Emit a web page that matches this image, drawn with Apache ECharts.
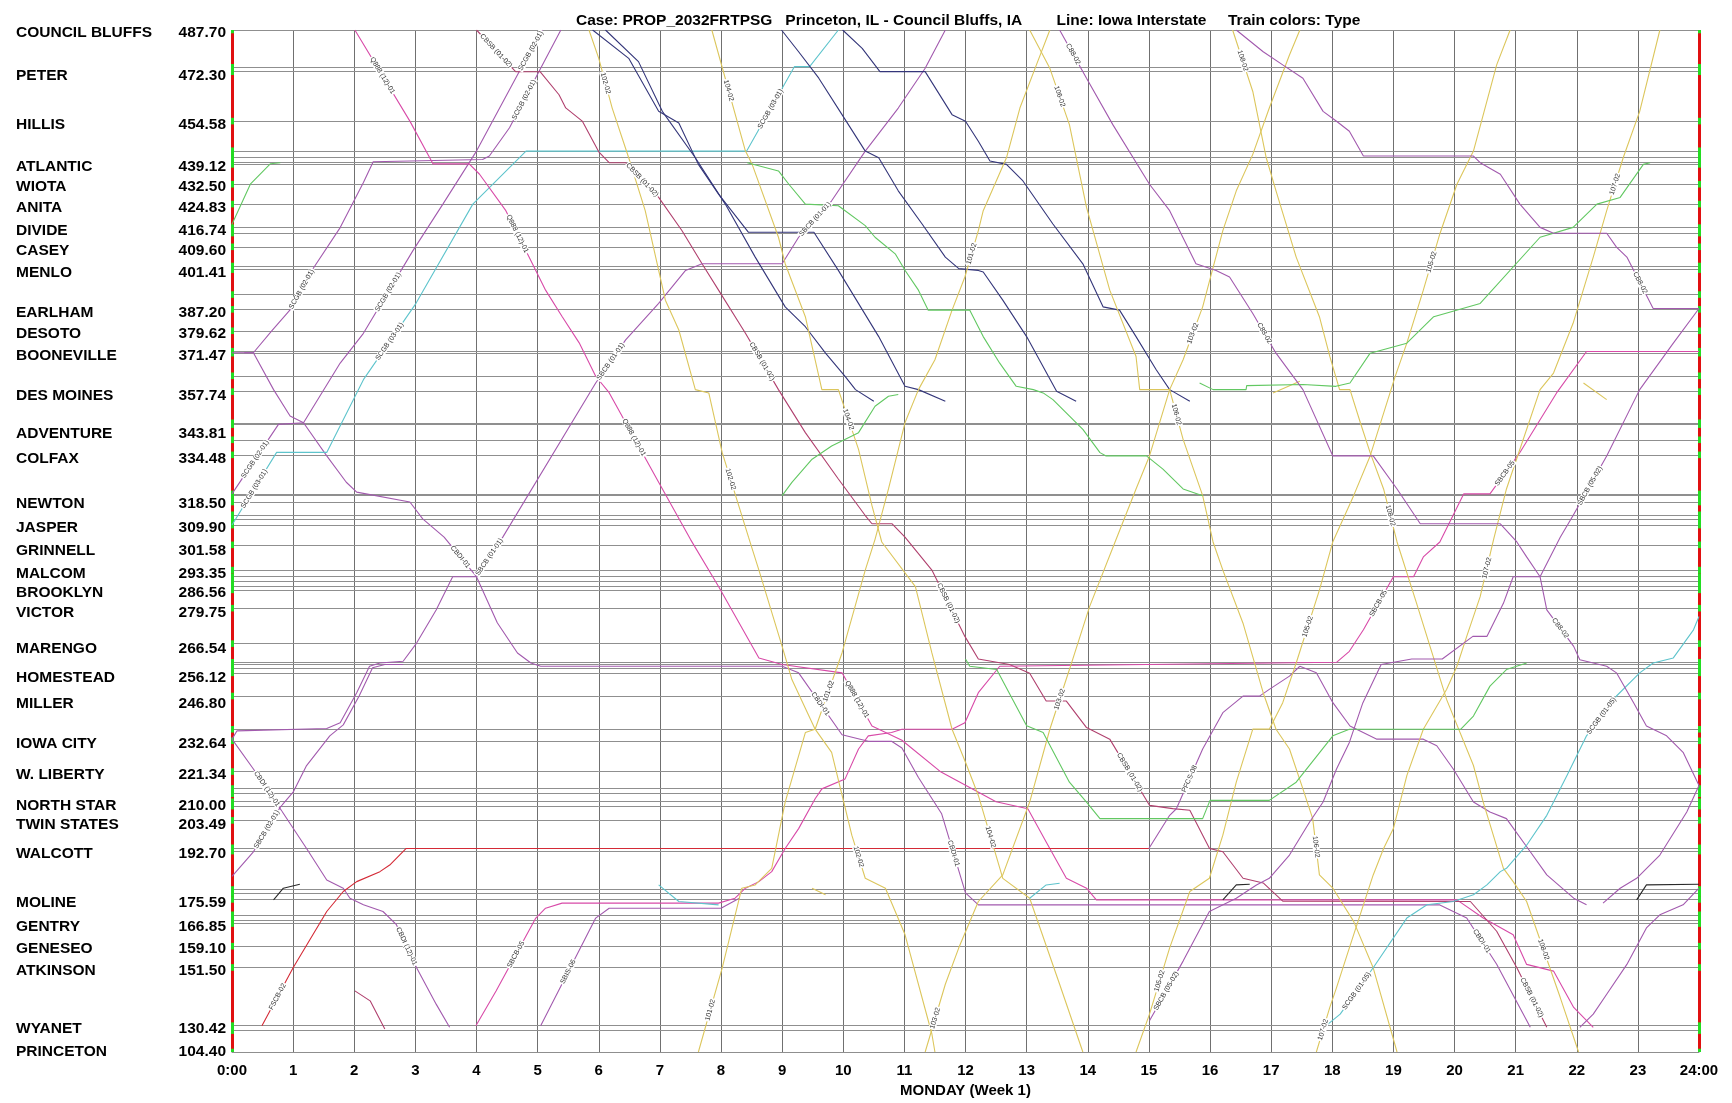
<!DOCTYPE html>
<html><head><meta charset="utf-8">
<script src="https://cdn.jsdelivr.net/npm/echarts@6/dist/echarts.min.js"></script>
<style>html,body{margin:0;padding:0;background:#fff}#c{width:1732px;height:1103px}</style>
</head><body><div id="c"></div>
<script>
// ---------------- DATA ----------------
const stationNames = ['COUNCIL BLUFFS','PETER','HILLIS','ATLANTIC','WIOTA','ANITA','DIVIDE','CASEY','MENLO','EARLHAM','DESOTO','BOONEVILLE','DES MOINES','ADVENTURE','COLFAX','NEWTON','JASPER','GRINNELL','MALCOM','BROOKLYN','VICTOR','MARENGO','HOMESTEAD','MILLER','IOWA CITY','W. LIBERTY','NORTH STAR','TWIN STATES','WALCOTT','MOLINE','GENTRY','GENESEO','ATKINSON','WYANET','PRINCETON'];
const stationMileposts = ['487.70','472.30','454.58','439.12','432.50','424.83','416.74','409.60','401.41','387.20','379.62','371.47','357.74','343.81','334.48','318.50','309.90','301.58','293.35','286.56','279.75','266.54','256.12','246.80','232.64','221.34','210.00','203.49','192.70','175.59','166.85','159.10','151.50','130.42','104.40'];
// graph distance of each station on the vertical (distance) scale of the string-line chart
const stationDist = [27,66,111,149,167,186,207,225,245,282,301,321,357,392,415,456,478,499,520,537,555,588,614,638,674,703,731,748,775,819,841,861,881,934,955];
// track / siding lines drawn across the chart (graph distance)
const trackLines = [27,61,65,110,137,143,147.6,149.4,167.5,185.6,207,212,224.5,242,245.3,268,281.5,301,319.6,321.4,342,356.4,384.8,386.5,400.3,414,449.6,451.2,457,468.6,473,478,496,519,525,529.6,533.5,537,553.7,586,603,605,608,612.6,633.7,664,674.5,702.5,718,722.7,730,734,747,772,775,810,813,819,833,838,841,861.6,881,934,938.5,958];
const hourTicks = [0,1,2,3,4,5,6,7,8,9,10,11,12,13,14,15,16,17,18,19,20,21,22,23,24];

// trains: [hour, graph distance]
const trainA768 = [[0,204],[0.3,167.5],[0.63,148.8],[0.79,148]];
const trainSCGB0201a = [[0.2,321],[0.35,321],[0.65,301],[0.95,282],[1.33,244],[1.77,207],[2.15,166],[2.31,147],[4.1,145],[4.21,141.8],[4.54,116],[5.02,65],[5.38,27]];
const trainCBDI01 = [[0,321],[0.35,321],[0.68,354.6],[0.95,378.7],[1.17,384.8],[1.55,415],[1.87,439],[2.04,448],[2.91,457],[3.12,472.3],[3.47,489],[4.0,525],[4.34,567],[4.67,594.5],[4.89,603.6],[5.05,606.6],[9.0,606.6],[9.27,612.6],[9.98,669],[10.41,675],[10.79,675],[10.96,681],[11.23,708],[11.61,741],[12.0,813],[12.21,824],[19.76,824],[20.2,836],[20.69,878],[21.24,935.5]];
const trainSCGB0201b = [[0,449.6],[0.76,386.3],[1.17,384.8],[1.77,330.4],[2.15,303.3],[2.96,228],[3.45,185.6],[4.0,137.3],[4.7,64.9],[5.08,27]];
const trainSCGB0301 = [[0,478],[0.73,411.8],[1.55,411.8],[2.15,345.5],[3.01,276],[3.94,185.6],[4.81,137.3],[8.42,137.3],[9.2,60.4],[9.45,60.4],[9.92,27]];
const trainQ88812 = [[2.01,27],[2.91,110],[3.29,149],[3.88,149],[4.05,158.4],[4.48,191.6],[4.86,233.8],[5.13,264],[5.4,288],[5.68,312],[5.95,342.4],[6.17,357.4],[6.98,439],[7.5,491],[7.96,534],[8.62,599],[9.0,605],[9.98,612.6],[10.47,661],[10.96,674],[11.6,703],[12.5,730],[13.02,736.4],[13.32,766.6],[13.65,799.8],[13.98,808.8],[14.14,819.4],[20.04,819.4],[20.47,836],[20.96,851.1],[21.18,878.2],[21.62,884.3],[21.95,917.4],[22.27,935.5]];
const trainCBSB0102 = [[4.0,27],[4.64,65],[5.04,65],[5.35,86],[5.46,98],[5.73,110],[6.0,138],[6.17,147.9],[6.44,147.9],[6.98,179.5],[7.36,209.7],[7.69,239.9],[7.96,264],[8.4,303.3],[8.94,354.6],[9.38,393.8],[9.92,436],[10.36,469.3],[10.47,476.8],[10.8,476.8],[11.01,489],[11.45,519],[11.99,579.4],[12.21,600],[12.72,605],[13.05,613],[13.32,638.3],[13.65,638.3],[13.98,662.5],[14.36,673],[15.01,733.3],[15.39,736.3],[15.67,737.8],[15.99,772.5],[16.21,775.6],[16.54,799.7],[16.87,804],[17.19,820.6],[20.26,820.9],[20.69,848],[21.02,881.3],[21.51,935.5]];
const trainSBCB0101 = [[0,673],[0.08,665.5],[1.55,663.3],[1.77,658],[2.04,630.7],[2.25,606.6],[2.42,603.6],[2.8,602],[3.02,585.5],[3.34,555.3],[3.61,525.1],[3.99,525.1],[4.43,489],[5.95,348.6],[6.44,309.3],[6.98,276.1],[7.42,246],[7.69,239.9],[9.0,239.9],[9.27,215.8],[9.81,182.6],[10.36,137.3],[10.9,98.1],[11.34,61.9],[11.67,27]];
const trainSBCB0201 = [[0,798],[0.35,775.6],[0.79,734.9],[1.0,721.3],[1.22,697.1],[1.6,670],[1.82,660],[2.08,633.7],[2.3,608],[2.5,605],[2.8,605]];
const trainCBDI1201 = [[0,673],[0.35,700.2],[0.79,736.4],[1.22,772.6],[1.55,801.3],[1.82,808.8],[1.93,817.9],[2.15,823.9],[2.47,830],[2.69,842],[3.02,881.3],[3.34,914.4],[3.56,935.5]];
const trainFSCB02 = [[0.49,934],[1.0,881.2],[1.55,830],[1.82,811.8],[2.04,802.8],[2.42,793.7],[2.58,787.7],[2.85,772.6],[15.0,772.6]];
const trainPFCS08 = [[15.0,772.6],[15.34,742.4],[15.45,736.4],[15.88,682],[16.21,648.9],[16.54,633.8],[16.81,633.8],[16.97,627.7],[17.3,615.6],[17.47,606.6]];
const trainCB80102 = [[17.47,606.6],[17.74,612.6],[18.01,639.8],[18.29,661],[18.73,673],[19.49,673],[19.71,679],[19.98,700.2],[20.31,730.3],[20.58,739.4],[20.85,745.4],[21.24,775.6],[21.51,796.7],[21.95,817.9],[22.16,823.9]];
const trainSBCB05 = [[3.99,934],[4.32,902.4],[4.97,836],[5.13,827],[5.4,822.4],[7.96,822.4],[8.23,817.9],[8.4,808.8],[8.62,802.8],[8.83,793.7],[9.05,772.6],[9.27,754.5],[9.54,727.3],[9.65,718.3],[10.03,709.2],[10.25,682],[10.41,670],[10.79,667],[10.96,664],[11.78,664],[11.99,658],[12.21,630.7],[12.56,606.6],[18.07,603],[18.28,593],[18.51,573.4],[19.0,525.1],[19.33,525.1],[19.49,507],[19.76,493.4],[20.15,449.6],[20.58,449.6],[21.07,411.9],[21.67,357.6],[22.16,319.9],[24,319.9]];
const trainSBIS06 = [[5.05,934],[5.95,836],[6.17,827],[8.0,827],[8.3,818]];
const trainNavy1 = [[6.11,27],[6.65,55.8],[7.04,101.1],[7.58,143.4],[8.07,185.6],[8.56,233.9],[9.05,279.2],[9.38,297.3],[9.71,321.4],[10.03,342.5],[10.2,354.6],[10.5,365.2]];
const trainNavy2 = [[5.9,27],[6.49,52.8],[6.98,101.1],[7.31,111.7],[7.63,149.4],[7.96,176.5],[8.45,211.3],[9.52,211.3],[9.92,246],[10.58,306.3],[11.01,351.6],[11.23,354.6],[11.67,365.2]];
const trainNavy3 = [[8.99,27],[9.27,46.8],[9.6,70.9],[9.98,104.1],[10.36,137.3],[10.58,143.4],[10.9,173.5],[11.29,203.7],[11.67,233.9],[11.89,244.4],[12.21,246],[12.29,247.5],[12.61,273.1],[13.0,306.3],[13.49,356.1],[13.81,365.2]];
const trainNavy4 = [[9.99,27],[10.31,43.8],[10.6,64.9],[11.34,64.9],[11.78,104.1],[12.0,110.1],[12.21,128.3],[12.4,146.4],[12.67,149.4],[12.94,164.5],[13.43,203.7],[13.92,240],[14.25,279.2],[14.52,282.2],[14.79,306.3],[15.12,336.5],[15.34,354.6],[15.67,365.2]];
const train102 = [[5.84,27],[6.0,52.8],[6.22,98.1],[6.49,143.4],[6.76,191.6],[7.09,273.1],[7.31,300.3],[7.58,354.6],[7.8,357.6],[8.02,412],[8.29,460.3],[8.45,489],[8.62,519.1],[9.0,588.5],[9.16,618.7],[9.54,663.9],[9.81,685],[10.14,760.5],[10.36,799.7],[10.69,808.8],[11.01,851],[11.45,941.6],[11.5,958]];
const train104 = [[7.85,27],[8.4,137.3],[8.51,149.4],[8.94,215.8],[9.05,239.9],[9.38,288.2],[9.65,354.6],[9.92,354.6],[10.25,409],[10.47,460.3],[10.63,493.4],[11.18,534],[11.45,594.5],[11.78,664],[12.0,694],[12.21,724.3],[12.61,799.8],[13.05,817.9],[13.54,896.3],[13.92,958]];
const train106 = [[13.05,27],[13.38,61.9],[13.7,113.2],[13.98,188.6],[14.36,264],[14.79,324.4],[14.85,354.6],[15.34,354.6],[15.56,399.9],[15.88,451.2],[16.05,493.4],[16.21,519],[16.54,567.4],[16.87,630.7],[17.08,664],[17.3,682],[17.52,718.3],[17.68,745.4],[17.79,796.7],[18.01,808.8],[18.35,839],[18.67,881.3],[19.06,958]];
const train108 = [[16.37,27],[16.7,83],[16.92,143.4],[17.08,173.5],[17.41,233.9],[17.79,288.2],[17.96,324.4],[18.12,354.6],[18.29,354.6],[18.46,384.8],[18.62,412],[18.84,445.1],[19.06,493.4],[19.38,549.3],[19.87,636.8],[20.31,697],[20.47,730.3],[20.8,790.7],[20.96,802.8],[21.18,820.9],[21.73,908.4],[22.03,958]];
const train101 = [[7.63,958],[8.02,881.3],[8.34,808.8],[8.56,805.8],[8.83,790.7],[9.05,730.3],[9.38,667],[9.54,664],[9.98,594.5],[10.36,519],[10.52,491],[10.74,445.1],[11.01,384.8],[11.23,354.6],[11.5,327.4],[11.78,282.2],[11.99,252],[12.21,209.7],[12.29,191.6],[12.67,143.4],[12.89,98.1],[13.16,58.8],[13.38,27]];
const train103 = [[11.34,958],[11.67,896.3],[11.89,863.1],[12.21,820.9],[12.61,796.7],[13.05,730.3],[13.38,664],[13.7,609.6],[14.03,552.3],[14.45,493],[14.79,445.1],[15.01,415],[15.34,354.6],[15.56,327.4],[15.88,279.2],[16.21,209.7],[16.43,173.5],[16.7,140.3],[16.97,98.1],[17.3,49.8],[17.47,27]];
const train105 = [[14.79,958],[15.01,923.5],[15.34,863.1],[15.67,811.8],[15.99,799.7],[16.21,760.5],[16.43,712.2],[16.7,663.9],[16.97,663.9],[17.19,639.8],[17.41,603.6],[17.79,537.2],[18.01,493.1],[18.35,451.2],[18.62,415],[19.03,342.5],[19.22,312.3],[19.49,264],[19.76,212.8],[20.04,167.5],[20.31,137.3],[20.69,58.8],[20.91,27]];
const train107 = [[17.74,958],[17.96,917.4],[18.07,899.3],[18.28,863.1],[18.67,796.7],[18.84,772.6],[19.0,754.5],[19.22,706.2],[19.49,664],[19.87,627.7],[20.04,606.6],[20.2,579.4],[20.42,543.2],[20.64,491],[20.85,445.1],[21.07,408.9],[21.4,354.6],[21.62,339.5],[21.94,294.2],[22.27,233.9],[22.49,191.6],[22.76,143.4],[23.03,101.1],[23.36,27]];
const trainPassShortA = [[9.49,808.8],[9.71,814.8]];
const trainPassShortB = [[17.03,357.6],[17.47,347]];
const trainPassShortC = [[22.11,348.6],[22.49,363.7]];
const trainFCS402 = [[8.43,147.9],[8.94,155.4],[9.11,167.5],[9.38,185.6],[9.92,187.1],[10.36,205.2],[10.52,215.8],[10.85,230.9],[11.01,245.9],[11.23,264],[11.39,282.2],[12.07,282.2],[12.29,306.3],[12.56,330.5],[12.83,351.6],[13.11,354.6],[13.27,357.6],[13.43,363.7],[13.92,390.8],[14.2,412],[14.3,415],[14.96,415],[15.23,427],[15.56,445.1],[15.88,451.2]];
const trainGreenB = [[9.0,451.2],[9.16,439.1],[9.49,418],[9.81,405.9],[10.25,393.8],[10.52,369.7],[10.74,360.6],[10.9,359.1]];
const trainGreenC = [[15.83,348.6],[16.05,354.6],[16.59,354.6],[16.6,351],[17.52,350],[18.06,351.6],[18.29,348.6],[18.62,321.4],[19.22,312.3],[19.66,288.2],[20.42,276.1],[21.4,215.8],[21.94,206.8],[22.33,185.6],[22.71,179.5],[23.09,149.4],[23.2,147.9]];
const trainGreenD = [[12.0,600],[12.07,606.6],[12.51,609.6],[13.0,660.9],[13.27,667],[13.7,712.2],[13.98,730.3],[14.2,745.4],[15.88,745.4],[16.0,728.8],[16.97,728.8],[17.41,712.2],[18.01,670],[18.28,664],[20.1,664],[20.31,652],[20.58,624.7],[20.85,609.6],[21.18,603.6]];
const trainCyanShortA = [[6.98,805.8],[7.31,820.9],[7.96,824]];
const trainCyanShortB = [[13.05,817.9],[13.32,805.8],[13.54,804.3]];
const trainSCGB0105 = [[17.9,934],[18.13,923.5],[18.67,881.3],[19.22,836],[19.55,823.9],[19.98,820.9],[20.31,814.8],[20.53,805.8],[20.75,793.7],[20.85,790.7],[21.18,769.6],[21.51,742.4],[21.84,706.2],[22.16,670],[22.65,633.7],[23.03,612.6],[23.25,603.6],[23.58,599],[23.91,573.4],[24,561.3]];
const trainCB802 = [[16.43,27],[16.87,46.8],[17.19,58.8],[17.52,70.9],[17.85,101.1],[18.07,110.1],[18.28,119.2],[18.51,141.8],[20.31,141.8],[20.42,147.9],[20.75,158.4],[21.07,185.6],[21.4,206.8],[21.62,212.2],[22.49,212.2],[22.65,224.8],[22.82,233.9],[23.25,280.7],[24,280.7]];
const trainC8802 = [[13.54,27],[13.98,71],[14.41,113.2],[15.01,167.5],[15.34,191.6],[15.77,239.9],[16.1,246],[16.32,252],[16.7,285.2],[17.08,321.4],[17.52,354.6],[18.01,415],[18.67,415],[19.06,445.1],[19.44,476.8],[20.75,476.8],[21.02,493.4],[21.18,507],[21.4,525.1],[21.51,555.3],[21.95,588.5],[22.05,600.6],[22.49,606.6],[22.65,612.6],[22.93,639.8],[23.14,661],[23.47,670],[23.74,685],[24,715.3]];
const trainSBCB0502 = [[15.01,929.5],[15.56,875.2],[15.99,830],[16.43,817.9],[16.76,805.8],[16.97,799.8],[17.3,778.6],[17.63,748.5],[17.85,730.3],[18.07,700.2],[18.28,676],[18.5,640],[18.8,605],[19.3,600],[19.8,600],[20.3,579.4],[20.53,579.4],[20.8,549.3],[20.96,525.1],[21.4,525.1],[21.73,489],[21.94,469.3],[22.49,415],[23.03,354.6],[23.58,312.3],[24,280.7]];
const trainSBCB0108 = [[22.05,935.5],[22.27,923.5],[22.49,905.4],[22.82,878.2],[23.14,845],[23.36,833],[23.74,823.9],[24,808.8]];
const trainSBCB0602 = [[22.43,822.4],[22.71,808.8],[22.98,799.8],[23.36,778.6],[23.8,739.4],[24,715.3]];
const trainLocalA = [[0.68,819.4],[0.84,808.8],[1.11,805.2]];
const trainLocalB = [[16.21,819.4],[16.43,805.8],[16.65,805.2]];
const trainLocalC = [[22.98,819.4],[23.14,805.8],[24,805.2]];
const trainLocalD = [[2.01,902.3],[2.26,911.4],[2.5,937]];

// train symbols shown along the string lines
const trainIds = {
  A768:'A768-01', SCGB0201:'SCGB (02-01)', CBDI01:'CBDI-01', SCGB0301:'SCGB (03-01)', Q88812:'Q888 (12)-01',
  CBSB0102:'CBSB (01-02)', SBCB0101:'SBCB (01-01)', SBCB0201:'SBCB (02-01)', CBDI1201:'CBDI (12)-01', FSCB02:'FSCB-02',
  PFCS08:'PFCS-08', CB80102:'CB8 (01)-02', SBCB05:'SBCB-05', SBIS06:'SBIS-06',
  P101:'101-02', P102:'102-02', P103:'103-02', P104:'104-02', P105:'105-02', P106:'106-02', P107:'107-02', P108:'108-02',
  FCS402:'FCS (4-02)', SCGB0105:'SCGB (01-05)', CB802:'CB8-02', C8802:'C88-02', SBCB0502:'SBCB (05-02)', SBCB0108:'SBCB (01-08)'
};

// ---------------- STYLE ----------------
const palette = {purple:'#a25aae', pink:'#d84aa8', wine:'#b0406e', red:'#d42a36', yellow:'#dcc65c', green:'#62c862', cyan:'#5ec4cc', navy:'#34367a', black:'#2a2a2a'};
const trainList = [
  [trainA768,'green','A768'],[trainSCGB0201a,'purple','SCGB0201'],[trainCBDI01,'purple','CBDI01'],[trainSCGB0201b,'purple','SCGB0201'],[trainSCGB0301,'cyan','SCGB0301'],
  [trainQ88812,'pink','Q88812'],[trainCBSB0102,'wine','CBSB0102'],[trainSBCB0101,'purple','SBCB0101'],[trainSBCB0201,'purple','SBCB0201'],[trainCBDI1201,'purple','CBDI1201'],
  [trainFSCB02,'red','FSCB02'],[trainPFCS08,'purple','PFCS08'],[trainCB80102,'purple','CB80102'],[trainSBCB05,'pink','SBCB05'],[trainSBIS06,'purple','SBIS06'],
  [trainNavy1,'navy'],[trainNavy2,'navy'],[trainNavy3,'navy'],[trainNavy4,'navy'],
  [train102,'yellow','P102'],[train104,'yellow','P104'],[train106,'yellow','P106'],[train108,'yellow','P108'],
  [train101,'yellow','P101'],[train103,'yellow','P103'],[train105,'yellow','P105'],[train107,'yellow','P107'],
  [trainPassShortA,'yellow'],[trainPassShortB,'yellow'],[trainPassShortC,'yellow'],
  [trainFCS402,'green','FCS402'],[trainGreenB,'green'],[trainGreenC,'green'],[trainGreenD,'green'],
  [trainCyanShortA,'cyan'],[trainCyanShortB,'cyan'],[trainSCGB0105,'cyan','SCGB0105'],
  [trainCB802,'purple','CB802'],[trainC8802,'purple','C8802'],[trainSBCB0502,'purple','SBCB0502'],[trainSBCB0108,'purple','SBCB0108'],[trainSBCB0602,'purple'],
  [trainLocalA,'black'],[trainLocalB,'black'],[trainLocalC,'black'],[trainLocalD,'wine']
];
const FONT = 'Liberation Sans, Arial, sans-serif';

const chart = echarts.init(document.getElementById('c'), null, {renderer:'canvas'});
const series = [];
series.push({type:'line', data:[[0,27]], showSymbol:false, lineStyle:{opacity:0}, silent:true, z:1,
  markLine:{silent:true, symbol:['none','none'], label:{show:false}, animation:false,
    lineStyle:{color:'#8f8f8f', width:1, type:'solid'},
    data: trackLines.map(p => ({yAxis:p}))}});
series.push({type:'line', data:[[0,27]], showSymbol:false, lineStyle:{opacity:0}, silent:true, z:20,
  markLine:{silent:true, symbol:['none','none'], label:{show:false}, animation:false,
    lineStyle:{color:'#e01010', width:3, type:'solid'},
    data:[[{coord:[0,27]},{coord:[0,958]}],[{coord:[24,27]},{coord:[24,958]}]]}});
const greenTicks = [];
trackLines.forEach(p => {
  greenTicks.push([{coord:[0,Math.max(27,p-3)]},{coord:[0,Math.min(958,p+3)]}]);
  greenTicks.push([{coord:[24,Math.max(27,p-3)]},{coord:[24,Math.min(958,p+3)]}]);
});
series.push({type:'line', data:[[0,27]], showSymbol:false, lineStyle:{opacity:0}, silent:true, z:21,
  markLine:{silent:true, symbol:['none','none'], label:{show:false}, animation:false,
    lineStyle:{color:'#22dd22', width:3, type:'solid'}, data: greenTicks}});
trainList.forEach(([d,c]) => {
  series.push({type:'line', data:d, showSymbol:false, silent:true, z:5, animation:false,
    lineStyle:{color:palette[c], width:1.1}});
});

chart.setOption({
  animation:false,
  backgroundColor:'#ffffff',
  title:{text:'Case: PROP_2032FRTPSG   Princeton, IL - Council Bluffs, IA        Line: Iowa Interstate     Train colors: Type',
    left:571, top:8, textStyle:{fontSize:15.5, fontWeight:'bold', fontFamily:FONT, color:'#000'}},
  grid:{left:232, right:33, top:30, bottom:45, containLabel:false},
  xAxis:{type:'value', min:0, max:24, interval:1,
    axisLine:{show:true, onZero:false, lineStyle:{color:'#8f8f8f', width:1}},
    axisTick:{show:false},
    splitLine:{show:true, lineStyle:{color:'#707070', width:1}},
    axisLabel:{margin:11, fontSize:15, fontWeight:'bold', fontFamily:FONT, color:'#000',
      formatter: v => v === 0 ? '0:00' : (v === 24 ? '24:00' : String(v))},
    name:'MONDAY (Week 1)', nameLocation:'middle', nameGap:31,
    nameTextStyle:{fontSize:15, fontWeight:'bold', fontFamily:FONT, color:'#000'}},
  yAxis:{type:'value', min:27, max:958, inverse:true,
    axisLine:{show:false}, axisTick:{show:false}, splitLine:{show:false},
    axisLabel:{customValues: stationDist, margin:6, showMinLabel:true, showMaxLabel:true, padding:[6,0,0,0],
      formatter: v => {
        const i = stationDist.indexOf(v);
        return i < 0 ? '' : '{n|' + stationNames[i] + '}{v|' + stationMileposts[i] + '}';
      },
      rich:{
        n:{width:160, align:'left', fontSize:15.5, fontWeight:'bold', fontFamily:FONT, color:'#000'},
        v:{width:50, align:'right', fontSize:15.5, fontWeight:'bold', fontFamily:FONT, color:'#000'}
      }}},
  series: series
});

// small train-symbol labels along each line, placed through the chart's own scales
const labelGraphics = [];
trainList.forEach(([d, c, key]) => {
  if (!key) return;
  let lastT = -10;
  for (let i = 0; i < d.length - 1; i++) {
    const p1 = chart.convertToPixel({gridIndex:0}, d[i]);
    const p2 = chart.convertToPixel({gridIndex:0}, d[i+1]);
    const dx = p2[0]-p1[0], dy = p2[1]-p1[1];
    if (Math.hypot(dx, dy) < 45 || Math.abs(dy) < 18) continue;
    const tm = (d[i][0] + d[i+1][0]) / 2;
    if (tm - lastT < 1.9) continue;
    lastT = tm;
    labelGraphics.push({type:'text', x:(p1[0]+p2[0])/2, y:(p1[1]+p2[1])/2, rotation:-Math.atan2(dy, dx),
      silent:true, z:30,
      style:{text:trainIds[key], fontSize:7, fontFamily:FONT, fill:'#333', align:'center', verticalAlign:'middle',
        backgroundColor:'#ffffff', padding:[0,1]}});
  }
});
chart.setOption({graphic: labelGraphics});
</script></body></html>
